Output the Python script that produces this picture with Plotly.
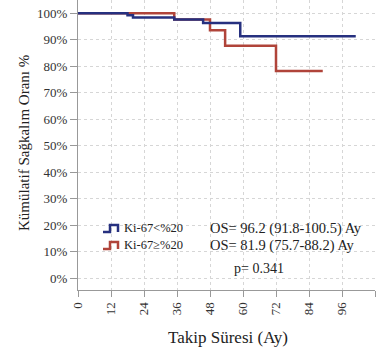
import plotly.graph_objects as go

# ---- data ----
blue_name = "Ki-67<%20"
red_name = "Ki-67≥%20"
blue_time = [0, 18, 20, 35, 45.5, 59, 101]
blue_surv = [100, 99.2, 98.4, 97.6, 96.3, 91.3, 91.3]
red_time = [0, 35, 48, 53.5, 72, 89]
red_surv = [100, 97.6, 93.6, 87.7, 78.2, 78.2]
blue_os = "OS= 96.2 (91.8-100.5) Ay"
red_os = "OS= 81.9 (75.7-88.2) Ay"
p_text = "p= 0.341"
x_ticks = [0, 12, 24, 36, 48, 60, 72, 84, 96, 108]
y_ticks = [0, 10, 20, 30, 40, 50, 60, 70, 80, 90, 100]

BLUE = "#26307f"
RED = "#b0443a"
FONT = "Liberation Serif, DejaVu Serif, serif"

W, H = 377, 354
ML, MR, MT, MB = 78, 2, 0, 64
PW, PH = W - ML - MR, H - MT - MB


def px(xp):
    return (xp - ML) / PW


def py(yp):
    return (H - MB - yp) / PH


fig = go.Figure()
fig.add_trace(go.Scatter(x=red_time, y=red_surv, mode="lines", line=dict(shape="hv", color=RED, width=2.5),
                         showlegend=False, hoverinfo="skip"))
fig.add_trace(go.Scatter(x=blue_time, y=blue_surv, mode="lines", line=dict(shape="hv", color=BLUE, width=2.5),
                         showlegend=False, hoverinfo="skip"))

shapes = []
for color, yc in [(BLUE, 228), (RED, 245)]:
    pts = [(103, yc + 4), (110, yc + 4), (110, yc - 3), (118, yc - 3), (118, yc + 4)]
    path = "M " + " L ".join(f"{px(a):.5f},{py(b):.5f}" for a, b in pts)
    shapes.append(dict(type="path", path=path, xref="paper", yref="paper",
                       line=dict(color=color, width=2.5)))

ann = []
def text(t, xp, yp, size=12, **kw):
    ann.append(dict(text=t, x=px(xp), y=py(yp), xref="paper", yref="paper", showarrow=False,
                    xanchor=kw.pop("xanchor", "left"), yanchor=kw.pop("yanchor", "middle"),
                    font=dict(family=FONT, size=size, color="#222"), **kw))

text(blue_name, 122, 228, size=12.5)
text(blue_os, 208, 228, size=14.5)
text(red_name, 122, 245, size=12.5)
text(red_os, 208, 245, size=14.5)
text(p_text, 232, 268, size=14)
text("Takip Süresi (Ay)", 228, 338, size=17, xanchor="center")
text("Kümülatif Sağkalım Oranı %", 24, 143, size=15, xanchor="center", textangle=-90)

fig.update_layout(
    width=W, height=H,
    margin=dict(l=ML, r=MR, t=MT, b=MB),
    paper_bgcolor="white", plot_bgcolor="white",
    font=dict(family=FONT, size=13, color="#333"),
    shapes=shapes, annotations=ann,
    xaxis=dict(range=[0, 108], tickvals=x_ticks, ticktext=[str(v) for v in x_ticks], tickangle=-90,
               showgrid=True, gridcolor="#d6d6d6", griddash="dot", gridwidth=1,
               showline=True, linecolor="#999", linewidth=1, ticks="outside", ticklen=6, tickcolor="#999",
               zeroline=False),
    yaxis=dict(range=[-4.5, 105], tickvals=y_ticks, ticktext=[f"{v}%" for v in y_ticks],
               showgrid=True, gridcolor="#d6d6d6", griddash="dot", gridwidth=1,
               showline=True, linecolor="#999", linewidth=1, ticks="outside", ticklen=7, tickcolor="#999",
               zeroline=False),
)

fig.write_html("out.html")
